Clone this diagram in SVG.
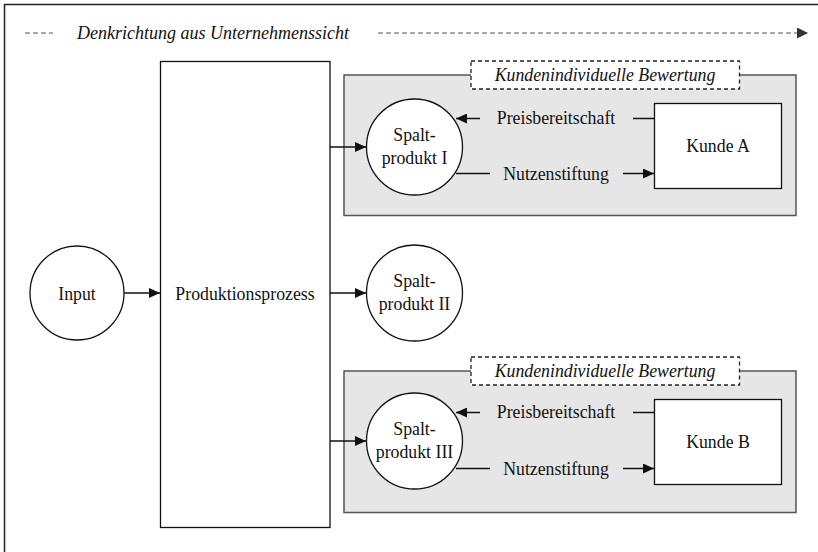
<svg xmlns="http://www.w3.org/2000/svg" width="818" height="552" viewBox="0 0 818 552">
<defs>
<marker id="ah" viewBox="0 0 10 10" refX="10" refY="5" markerWidth="11" markerHeight="10" markerUnits="userSpaceOnUse" orient="auto" preserveAspectRatio="none"><path d="M0,0 L10,5 L0,10 z" fill="#111"/></marker>
<marker id="ah2" viewBox="0 0 10 10" refX="10" refY="5" markerWidth="11" markerHeight="11" markerUnits="userSpaceOnUse" orient="auto"><path d="M0,0 L10,5 L0,10 z" fill="#333"/></marker>
</defs>
<style>
text{font-size:17.8px;fill:#111;text-anchor:middle}
.it{font-style:italic}
.node{fill:#fff;stroke:#111;stroke-width:1.3}
.grp{fill:#e6e6e6;stroke:#555;stroke-width:1.5}
.lbl{fill:#fff;stroke:#222;stroke-width:1.3;stroke-dasharray:4 3}
.c{fill:none;stroke:#111;stroke-width:1.5}
</style>
<rect width="818" height="552" fill="#fff"/>
<path d="M4.5,552 V4.5 H818" fill="none" stroke="#222" stroke-width="1.5"/>
<g font-family="Liberation Serif, serif">
<g id="header">
<line x1="25" y1="33" x2="53" y2="33" stroke="#555" stroke-width="1.2" stroke-dasharray="5 3"/>
<text x="213" y="39" class="it" font-family="Liberation Serif, serif" style="font-size:18px">Denkrichtung aus Unternehmenssicht</text>
<line x1="378" y1="33" x2="808" y2="33" stroke="#555" stroke-width="1.2" stroke-dasharray="5 3" marker-end="url(#ah2)"/>
</g>
<g id="groupA">
<rect x="344" y="75" width="452" height="140.5" class="grp"/>
<rect x="471" y="61" width="268.5" height="28" class="lbl"/>
<text x="605" y="80.5" class="it" font-family="Liberation Serif, serif">Kundenindividuelle Bewertung</text>
</g>
<g id="groupB">
<rect x="344" y="371" width="452" height="141.5" class="grp"/>
<rect x="471" y="357" width="268.5" height="28" class="lbl"/>
<text x="605" y="376.5" class="it" font-family="Liberation Serif, serif">Kundenindividuelle Bewertung</text>
</g>
<g id="input">
<circle cx="77" cy="293" r="47" class="node"/>
<text x="77" y="299.5" font-family="Liberation Serif, serif">Input</text>
</g>
<g id="produktionsprozess">
<rect x="160.5" y="61.5" width="169.5" height="466" class="node"/>
<text x="245" y="299.5" font-family="Liberation Serif, serif">Produktionsprozess</text>
</g>
<g id="spaltprodukt1">
<circle cx="414.5" cy="147" r="48" class="node"/>
<text x="414.5" y="140.5" font-family="Liberation Serif, serif">Spalt-</text>
<text x="414.5" y="163.5" font-family="Liberation Serif, serif">produkt I</text>
</g>
<g id="spaltprodukt2">
<circle cx="414.5" cy="293" r="48" class="node"/>
<text x="414.5" y="286.5" font-family="Liberation Serif, serif">Spalt-</text>
<text x="414.5" y="309.5" font-family="Liberation Serif, serif">produkt II</text>
</g>
<g id="spaltprodukt3">
<circle cx="414.5" cy="441" r="48" class="node"/>
<text x="414.5" y="434.5" font-family="Liberation Serif, serif">Spalt-</text>
<text x="414.5" y="457.5" font-family="Liberation Serif, serif">produkt III</text>
</g>
<g id="kundeA">
<rect x="654.5" y="103.5" width="127" height="85" class="node"/>
<text x="718" y="152" font-family="Liberation Serif, serif">Kunde A</text>
</g>
<g id="kundeB">
<rect x="654.5" y="399.5" width="127" height="85" class="node"/>
<text x="718" y="448" font-family="Liberation Serif, serif">Kunde B</text>
</g>
<g id="connectors">
<line x1="124" y1="293" x2="160" y2="293" class="c" marker-end="url(#ah)"/>
<line x1="330" y1="293" x2="366" y2="293" class="c" marker-end="url(#ah)"/>
<line x1="330" y1="147" x2="366" y2="147" class="c" marker-end="url(#ah)"/>
<line x1="330" y1="441" x2="366" y2="441" class="c" marker-end="url(#ah)"/>
<line x1="654" y1="118.5" x2="633" y2="118.5" class="c"/>
<line x1="480" y1="118.5" x2="456" y2="118.5" class="c" marker-end="url(#ah)"/>
<text x="556" y="124" font-family="Liberation Serif, serif">Preisbereitschaft</text>
<line x1="456" y1="173.5" x2="490" y2="173.5" class="c"/>
<line x1="623" y1="173.5" x2="654" y2="173.5" class="c" marker-end="url(#ah)"/>
<text x="556" y="179.5" font-family="Liberation Serif, serif">Nutzenstiftung</text>
<line x1="654" y1="412.5" x2="633" y2="412.5" class="c"/>
<line x1="480" y1="412.5" x2="456" y2="412.5" class="c" marker-end="url(#ah)"/>
<text x="556" y="418" font-family="Liberation Serif, serif">Preisbereitschaft</text>
<line x1="456" y1="468.5" x2="490" y2="468.5" class="c"/>
<line x1="623" y1="468.5" x2="654" y2="468.5" class="c" marker-end="url(#ah)"/>
<text x="556" y="474.5" font-family="Liberation Serif, serif">Nutzenstiftung</text>
</g>
</g>
</svg>
